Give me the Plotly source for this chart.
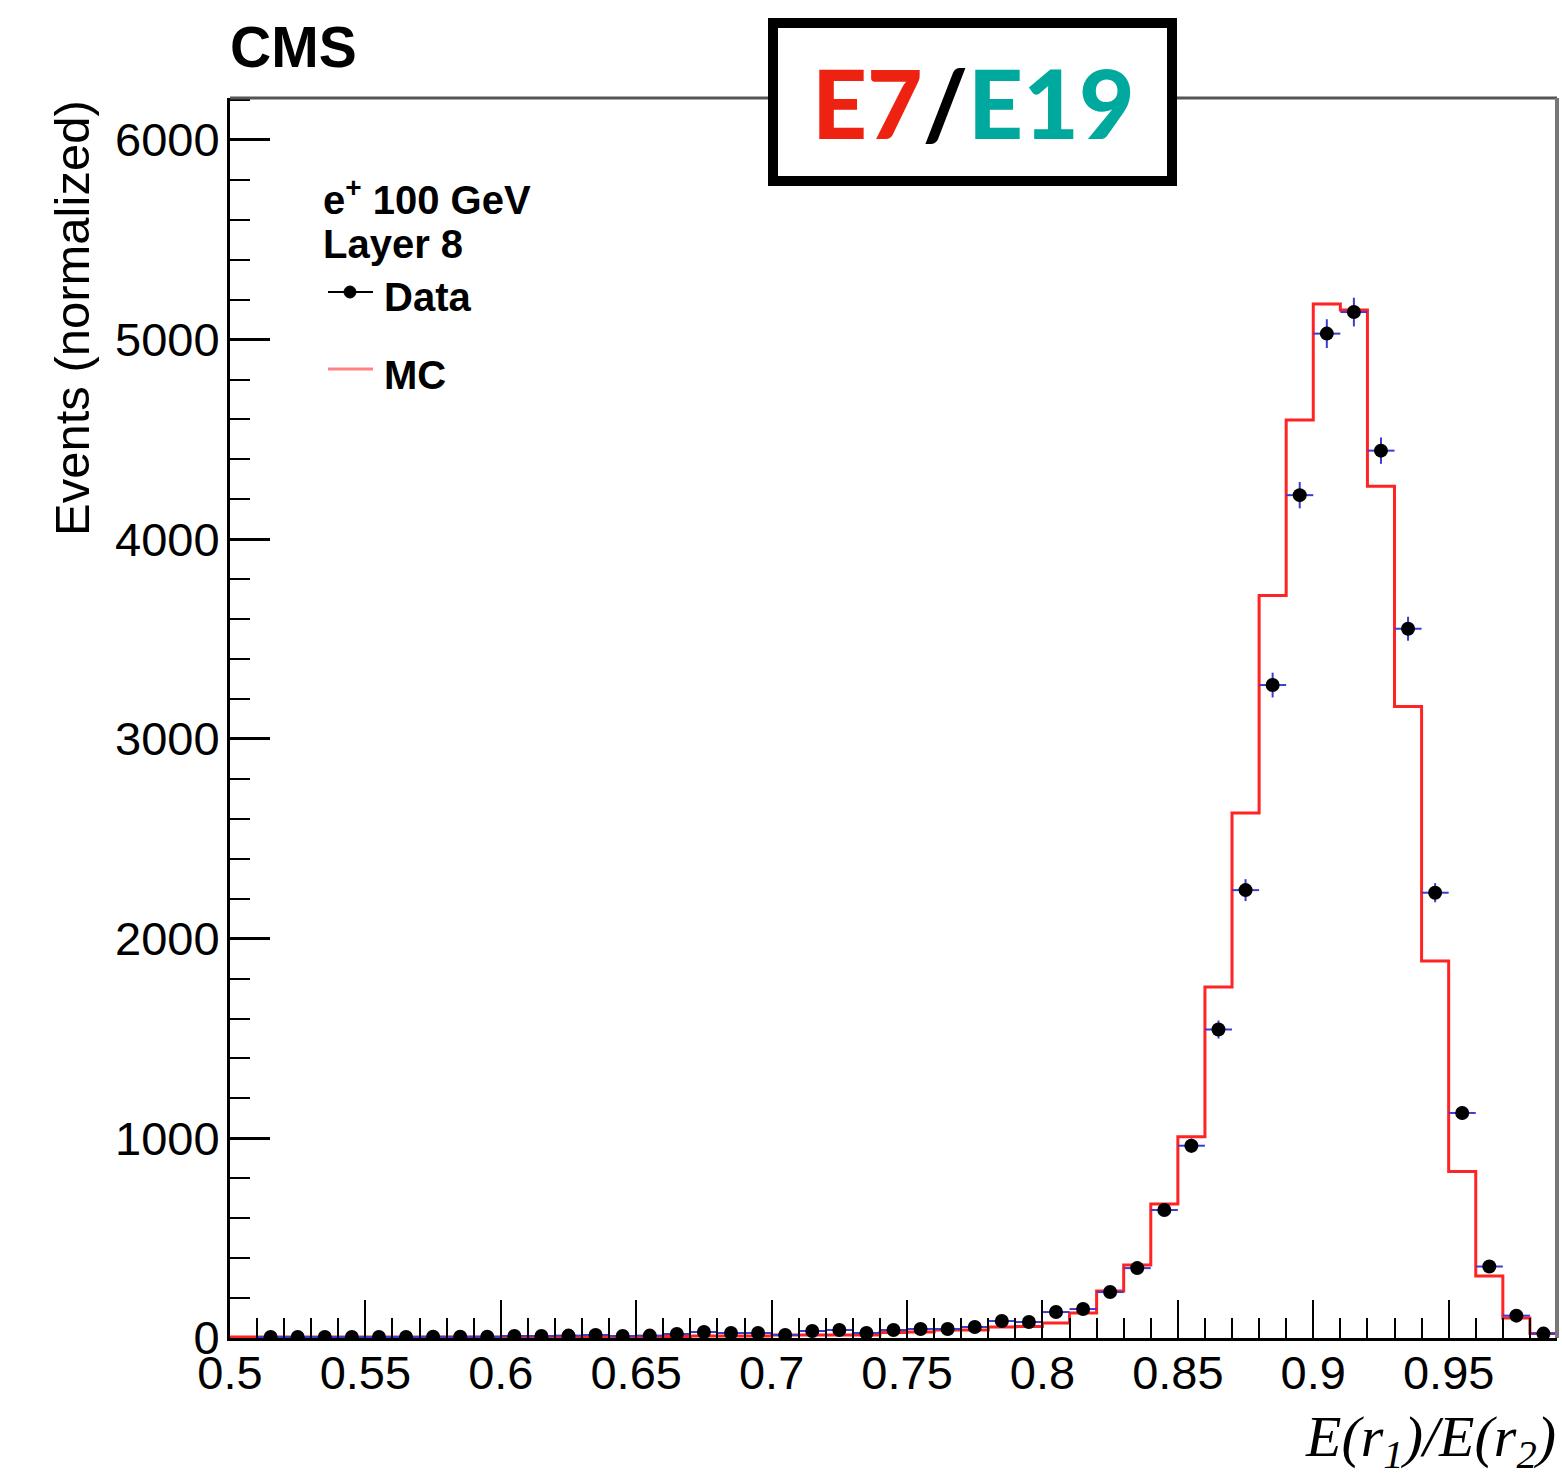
import plotly.graph_objects as go

# ---------------- data ----------------
bin_edges_lo = [round(0.50 + 0.01 * i, 2) for i in range(49)]
bin_width = 0.01
x_max = 0.99

mc_values = [5, 5, 5, 5, 5, 5, 5, 5, 5, 5,
             6, 6, 6, 6, 8, 8, 8, 10, 10, 10,
             15, 15, 15, 15, 28, 30, 40, 40, 55, 58,
             75, 125, 235, 366, 671, 1008, 1758, 2629, 3718, 4597,
             5178, 5148, 4266, 3163, 1888, 834, 310, 100, 22]

data_centers = [round(0.515 + 0.01 * i, 3) for i in range(48)]
data_values = [5, 5, 5, 5, 5, 5, 6, 6, 6, 10,
               10, 12, 15, 10, 12, 20, 30, 25, 25, 15,
               35, 40, 25, 40, 45, 45, 55, 85, 80, 130,
               145, 230, 350, 641, 963, 1545, 2243, 3270, 4221, 5030,
               5138, 4444, 3552, 2230, 1127, 358, 112, 22]
data_errors = [3, 3, 3, 3, 3, 3, 3, 3, 3, 4,
               4, 4, 5, 4, 4, 5, 6, 6, 6, 5,
               7, 7, 6, 7, 8, 8, 9, 11, 11, 14,
               15, 18, 22, 30, 36, 45, 55, 62, 66, 72,
               72, 66, 60, 48, 34, 19, 11, 5]

x_ticks = [0.5, 0.55, 0.6, 0.65, 0.7, 0.75, 0.8, 0.85, 0.9, 0.95]
x_tick_text = ["0.5", "0.55", "0.6", "0.65", "0.7", "0.75", "0.8", "0.85", "0.9", "0.95"]
y_ticks = [0, 1000, 2000, 3000, 4000, 5000, 6000]

# ---------------- figure ----------------
W, H = 1562, 1478
ML, MR, MT, MB = 230, 5, 98, 140
PW, PH = W - ML - MR, H - MT - MB


def px(xp):
    return (xp - ML) / PW


def py(yp):
    return (H - MB - yp) / PH


fig = go.Figure()

# MC step histogram
mc_x = bin_edges_lo + [x_max]
mc_y = mc_values + [mc_values[-1]]
fig.add_trace(go.Scatter(
    x=mc_x, y=mc_y, mode="lines", line=dict(shape="hv", color="rgb(255,35,35)", width=3),
    showlegend=False, hoverinfo="skip"))

# Data points with error bars
fig.add_trace(go.Scatter(
    x=data_centers, y=data_values, mode="markers",
    marker=dict(color="black", size=14, symbol="circle"),
    error_y=dict(type="data", array=data_errors, color="rgb(60,60,210)", thickness=2, width=0),
    error_x=dict(type="constant", value=bin_width / 2, color="rgb(60,60,210)", thickness=2, width=0),
    showlegend=False, hoverinfo="skip"))

tick_font = dict(family="Liberation Sans, Arial, sans-serif", size=47, color="black")

fig.update_xaxes(
    range=[0.5, x_max], tickmode="array", tickvals=x_ticks, ticktext=x_tick_text,
    ticks="inside", ticklen=38, tickwidth=2, tickcolor="black",
    minor=dict(dtick=0.01, tick0=0.5, ticks="inside", ticklen=20, tickwidth=2, tickcolor="black"),
    showline=True, linecolor="black", linewidth=3, showgrid=False, zeroline=False,
    tickfont=tick_font, ticklabelstandoff=-8)
fig.update_yaxes(
    range=[0, 6210], tickmode="array", tickvals=y_ticks, ticktext=[str(v) for v in y_ticks],
    ticks="inside", ticklen=40, tickwidth=3, tickcolor="black",
    minor=dict(dtick=200, tick0=0, ticks="inside", ticklen=20, tickwidth=2, tickcolor="black"),
    showline=True, linecolor="black", linewidth=3, showgrid=False, zeroline=False,
    tickfont=tick_font, ticklabelstandoff=-2)

shapes = []
# frame (top/right) in grey
shapes.append(dict(type="line", xref="paper", yref="paper", x0=0, x1=1, y0=1, y1=1,
                   line=dict(color="#555555", width=3), layer="above"))
shapes.append(dict(type="line", xref="paper", yref="paper", x0=1, x1=1, y0=0, y1=1,
                   line=dict(color="#777777", width=4), layer="above"))
# legend symbols
shapes.append(dict(type="line", xref="paper", yref="paper", x0=px(328), x1=px(373), y0=py(292), y1=py(292),
                   line=dict(color="black", width=2), layer="above"))
shapes.append(dict(type="circle", xref="paper", yref="paper", x0=px(344), x1=px(356), y0=py(286), y1=py(298),
                   fillcolor="black", line=dict(color="black", width=1), layer="above"))
shapes.append(dict(type="line", xref="paper", yref="paper", x0=px(328), x1=px(373), y0=py(369), y1=py(369),
                   line=dict(color="rgb(255,130,130)", width=3), layer="above"))
# E7/E19 box
shapes.append(dict(type="rect", xref="paper", yref="paper", x0=px(773), x1=px(1172), y0=py(23), y1=py(181),
                   fillcolor="white", line=dict(color="black", width=10), layer="above"))

bold = dict(family="Liberation Sans, Arial, sans-serif", color="black")
annotations = [
    dict(text="<b>CMS</b>", xref="paper", yref="paper", x=px(228), y=py(47), xanchor="left", yanchor="middle",
         showarrow=False, font=dict(size=57, **bold)),
    dict(text="<b>e<sup>+</sup> 100 GeV</b>", xref="paper", yref="paper", x=px(321), y=py(197),
         xanchor="left", yanchor="middle", showarrow=False, font=dict(size=40, **bold)),
    dict(text="<b>Layer 8</b>", xref="paper", yref="paper", x=px(321), y=py(244),
         xanchor="left", yanchor="middle", showarrow=False, font=dict(size=40, **bold)),
    dict(text="<b>Data</b>", xref="paper", yref="paper", x=px(382), y=py(297),
         xanchor="left", yanchor="middle", showarrow=False, font=dict(size=40, **bold)),
    dict(text="<b>MC</b>", xref="paper", yref="paper", x=px(382), y=py(375),
         xanchor="left", yanchor="middle", showarrow=False, font=dict(size=40, **bold)),
    dict(text="Events (normalized)", xref="paper", yref="paper", x=px(72), y=py(318),
         xanchor="center", yanchor="middle", textangle=-90, showarrow=False,
         font=dict(family="Liberation Sans, Arial, sans-serif", size=49, color="black")),
    dict(text="<i>E(r<sub>1</sub>)/E(r<sub>2</sub>)</i>", xref="paper", yref="paper", x=px(1558), y=py(1440),
         xanchor="right", yanchor="middle", showarrow=False,
         font=dict(family="Liberation Serif, Times New Roman, serif", size=58, color="black")),
    dict(text="<span style='color:#EE2211'>E7</span><span style='color:#000000'>/</span>"
              "<span style='color:#00A99D'>E19</span>",
         xref="paper", yref="paper", x=px(973), y=py(102), xanchor="center", yanchor="middle",
         showarrow=False, font=dict(family="Lato, sans-serif", size=96, weight=900, color="black")),
]

fig.update_layout(
    width=W, height=H, margin=dict(l=ML, r=MR, t=MT, b=MB, autoexpand=False),
    paper_bgcolor="white", plot_bgcolor="white", showlegend=False,
    shapes=shapes, annotations=annotations)

fig.write_html("out.html")
